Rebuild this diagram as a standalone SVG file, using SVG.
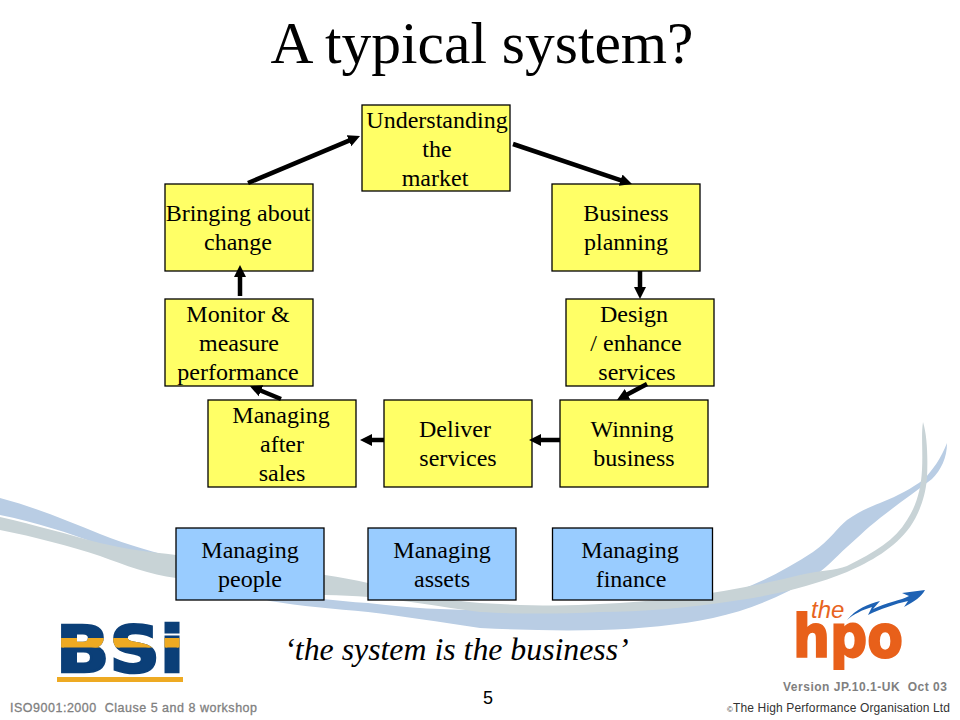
<svg xmlns="http://www.w3.org/2000/svg" width="960" height="720" viewBox="0 0 960 720">
<style>
.y{fill:#ffff66;stroke:#000;stroke-width:1.3}
.b{fill:#99ccff;stroke:#000;stroke-width:1.3}
.t{font-family:"Liberation Serif","Times New Roman",serif;font-size:24px;fill:#000;text-anchor:middle}
.c line{stroke:#000;stroke-width:4.5;fill:none;marker-end:url(#ah)}
.f{font-family:"Liberation Sans",Arial,sans-serif;fill:#808080}
</style>
<defs>
<marker id="ah" markerUnits="userSpaceOnUse" markerWidth="13" markerHeight="13" refX="2" refY="6.5" orient="auto"><path d="M0,0.5L12,6.5L0,12.5z" fill="#000"/></marker>
<clipPath id="band"><rect x="50" y="638" width="140" height="9.5"/></clipPath>
</defs>
<rect width="960" height="720" fill="#fff"/>
<g id="swoosh">
<path d="M0,498C35,507 70,522 100,534C130,546 155,552 176,558C210,570 240,582 270,590C300,597 335,601 368,603C410,608 445,610 480,610C530,613 580,613 620,610C655,607 685,603 713,597C750,590 785,570 813,552C830,540 838,527 847,520C860,511 870,507 880,503C900,495 912,488 923,480C933,470 941,458 947,443C947,458 941,470 932,479C915,492 898,504 880,518C865,530 855,540 847,547C835,558 825,569 813,577C785,595 750,610 713,618C680,625 640,629 600,630C560,631 520,630 480,628C440,622 400,616 368,612C335,609 300,606 270,601C240,592 205,580 176,570C150,562 125,555 100,545C70,533 35,522 0,515z" fill="#b9cde4"/>
<path d="M0,517C35,525 70,535 100,543C125,549 150,552 176,555C225,562 280,569 325,575C340,577 355,580 368,583C405,592 445,600 480,603C530,606 570,606 600,604C665,602 740,590 800,575C820,570 835,571 847,566C875,552 895,540 907,520C917,505 921,488 922,470C923,450 921,435 923,422C927,435 928,455 927,478C925,500 918,515 910,527C895,548 870,562 847,572C815,585 775,595 740,600C690,608 640,612 600,612C560,614 515,614 480,612C440,607 405,600 368,597C355,596 340,595 325,595C280,590 225,584 176,578C150,575 125,565 100,556C70,546 35,537 0,530z" fill="#c8d3d6"/>
</g>
<text id="title" x="482" y="63" font-family="'Liberation Serif','Times New Roman',serif" font-size="59.500" text-anchor="middle">A typical system?</text>
<g id="n-understanding"><rect class="y" x="362" y="105" width="148" height="86"/><text class="t" x="437" y="128">Understanding</text><text class="t" x="437" y="157">the</text><text class="t" x="435" y="186">market</text></g>
<g id="n-planning"><rect class="y" x="552" y="184" width="148" height="87"/><text class="t" x="626" y="221">Business</text><text class="t" x="626" y="250">planning</text></g>
<g id="n-design"><rect class="y" x="566" y="299" width="148" height="87"/><text class="t" x="634" y="322">Design</text><text class="t" x="636" y="351">/ enhance</text><text class="t" x="637" y="380">services</text></g>
<g id="n-winning"><rect class="y" x="560" y="400" width="148" height="87"/><text class="t" x="632" y="437">Winning</text><text class="t" x="634" y="466">business</text></g>
<g id="n-deliver"><rect class="y" x="384" y="400" width="148" height="87"/><text class="t" x="455" y="437">Deliver</text><text class="t" x="458" y="466">services</text></g>
<g id="n-after"><rect class="y" x="208" y="400" width="148" height="87"/><text class="t" x="281" y="423">Managing</text><text class="t" x="282" y="452">after</text><text class="t" x="282" y="481">sales</text></g>
<g id="n-monitor"><rect class="y" x="165" y="299" width="148" height="87"/><text class="t" x="238" y="322">Monitor &amp;</text><text class="t" x="239" y="351">measure</text><text class="t" x="238" y="380">performance</text></g>
<g id="n-change"><rect class="y" x="165" y="184" width="148" height="87"/><text class="t" x="238" y="221">Bringing about</text><text class="t" x="238" y="250">change</text></g>
<g id="n-people"><rect class="b" x="176" y="528" width="148" height="72"/><text class="t" x="250" y="558">Managing</text><text class="t" x="250" y="587">people</text></g>
<g id="n-assets"><rect class="b" x="368" y="528" width="148" height="72"/><text class="t" x="442" y="558">Managing</text><text class="t" x="442" y="587">assets</text></g>
<g id="n-finance"><rect class="b" x="552.500" y="528" width="160" height="72"/><text class="t" x="630" y="558">Managing</text><text class="t" x="631" y="587">finance</text></g>
<g id="connectors" class="c">
<line x1="248" y1="183" x2="350.800" y2="139.900"/>
<line x1="513" y1="144" x2="622.500" y2="180.800"/>
<line x1="640" y1="271" x2="640" y2="289"/>
<line x1="647" y1="384" x2="625.800" y2="395.300"/>
<line x1="560" y1="440" x2="539" y2="440"/>
<line x1="384" y1="440" x2="370" y2="440"/>
<line x1="281" y1="399" x2="259.200" y2="390"/>
<line x1="240" y1="296" x2="240" y2="275"/>
</g>
<text id="tagline" x="456.500" y="660" font-family="'Liberation Serif','Times New Roman',serif" font-size="31.800" font-style="italic" text-anchor="middle">‘the system is the business’</text>
<g id="bsi-logo">
<text x="56" y="672" font-family="'DejaVu Sans',sans-serif" font-weight="700" font-size="64" fill="#0b3f78" stroke="#0b3f78" stroke-width="2.500" textLength="128" lengthAdjust="spacingAndGlyphs">BSi</text>
<text x="56" y="672" font-family="'DejaVu Sans',sans-serif" font-weight="700" font-size="64" fill="#eeaa22" stroke="#eeaa22" stroke-width="2.500" textLength="128" lengthAdjust="spacingAndGlyphs" clip-path="url(#band)">BSi</text>
<rect x="57" y="677" width="126" height="5" fill="#eeaa22"/>
</g>
<g id="hpo-logo">
<path d="M847,620C856,609 868,604 880,601L873,609C885,603 902,600 909,596L902,593L925,590C922,596 914,602 904,607L908,601C895,604 880,609 868,615L872,607C862,610 854,614 847,620z" fill="#1e62b4"/>
<text x="811" y="618" font-family="'Liberation Sans',Arial,sans-serif" font-style="italic" font-size="24" fill="#e8641e">the</text>
<text x="793" y="657" font-family="'DejaVu Sans',sans-serif" font-weight="700" font-size="58" fill="#e8601a" stroke="#e8601a" stroke-width="2" textLength="110" lengthAdjust="spacingAndGlyphs">hpo</text>
</g>
<text id="page" x="488" y="704" font-family="'Liberation Sans',Arial,sans-serif" font-size="18" text-anchor="middle">5</text>
<text id="footer-left" class="f" x="10" y="712" font-size="12.500" textLength="247" xml:space="preserve" stroke="#808080" stroke-width="0.300">ISO9001:2000  Clause 5 and 8 workshop</text>
<text id="version" class="f" x="783" y="691" font-size="12" font-weight="700" textLength="164" xml:space="preserve">Version JP.10.1-UK  Oct 03</text>
<text id="copyright" class="f" x="727" y="712" style="fill:#333" font-size="12" textLength="223"><tspan font-size="8">©</tspan>The High Performance Organisation Ltd</text>
</svg>
